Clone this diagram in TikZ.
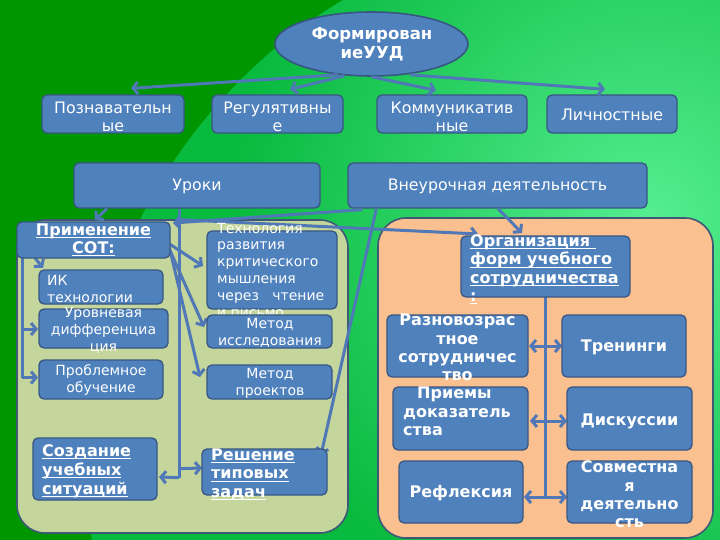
\documentclass[tikz,border=0pt]{standalone}
\usepackage{fontspec}
\setmainfont{DejaVu Sans}
\usetikzlibrary{arrows.meta,calc,shapes.geometric}
\definecolor{bgdark}{RGB}{0,150,0}
\definecolor{bgmid}{RGB}{8,186,62}
\definecolor{bglight}{RGB}{85,238,145}
\definecolor{boxfill}{RGB}{79,129,189}
\definecolor{boxline}{RGB}{56,86,130}
\definecolor{conncol}{RGB}{80,120,182}
\definecolor{lpanel}{RGB}{196,214,155}
\definecolor{rpanel}{RGB}{250,192,143}
\definecolor{pline}{RGB}{62,88,118}
\newcommand\myul[1]{\setbox0=\hbox{#1}\rlap{\rule[-3pt]{\wd0}{1.1pt}}\box0}
\begin{document}
\begin{tikzpicture}[x=1pt,y=-1pt,
  box/.style={draw=boxline,fill=boxfill,rounded corners=5pt,line width=1.3pt,inner sep=0pt},
  panel/.style={draw=pline,line width=1.6pt,rounded corners=28pt,inner sep=0pt},
  txt/.style={text=white,align=center,inner sep=0pt,font=\fontsize{14}{17}\selectfont},
  big/.style={font=\fontsize{15.8}{18}\selectfont},
  bigb/.style={font=\bfseries\fontsize{16}{18.3}\selectfont},
  conn/.style={draw=conncol,line width=3pt},
  endtip/.style={-{Straight Barb[length=5pt,width=12pt]}},
  bothtips/.style={{Straight Barb[length=5pt,width=12pt]}-{Straight Barb[length=5pt,width=12pt]}}]
\useasboundingbox (0,0) rectangle (720,540);
% background
\fill[bgdark] (0,0) rectangle (720,540);
\begin{scope}
  \clip (0,0) rectangle (720,540);
  \fill[bgmid] (615,455) circle (530pt);
  \clip (615,455) circle (530pt);
  \shade[inner color=bglight,outer color=bgmid] (650,220) circle (420pt);
\end{scope}
% panels
\node[panel,fill=lpanel,minimum width=331pt,minimum height=313pt] (LP) at (182.5,376.5) {};
\node[panel,fill=rpanel,minimum width=335pt,minimum height=320pt] (RP) at (545.5,378) {};
% upper boxes
\node[ellipse,draw=boxline,fill=boxfill,line width=1.6pt,minimum width=193pt,minimum height=64pt,inner sep=0pt] (E) at (371.5,44) {};
\node[box,minimum width=142pt,minimum height=38pt] (P1) at (113,114) {};
\node[box,minimum width=131pt,minimum height=38pt] (P2) at (277.5,114) {};
\node[box,minimum width=150pt,minimum height=38pt] (P3) at (452,114) {};
\node[box,minimum width=130pt,minimum height=38pt] (P4) at (612,114) {};
\node[box,minimum width=246pt,minimum height=45pt] (U) at (197,185.5) {};
\node[box,minimum width=299pt,minimum height=45pt] (V) at (497.5,185.5) {};
% connectors
\draw[conn,endtip] ($(E.south)+(-33.5,-2)$) -- ($(P1.north)+(18,-6)$);
\draw[conn,endtip] ($(E.south)+(-27,-1)$) -- ($(P2.north)+(12.5,-5)$);
\draw[conn,endtip] (E.south) -- ($(P3.north)+(-16,-4)$);
\draw[conn,endtip] ($(E.south)+(38.5,-2)$) -- ($(P4.north)+(-7,-5)$);
\coordinate (PrimN) at (93.5,222);
\coordinate (PrimNE) at (170,222);
\coordinate (PrimSW) at (17,258);
\coordinate (PrimE) at (170,240);
\coordinate (IKNW) at (39,270);
\coordinate (UrovW) at (39,328.5);
\coordinate (ProbW) at (39,379.5);
\coordinate (SozdE) at (157,469);
\coordinate (TechW) at (207,270);
\coordinate (MIW) at (207,331.5);
\coordinate (MPW) at (207,382);
\coordinate (ReshW) at (202,472);
\coordinate (ReshNE) at (327,449);
\coordinate (OrgNW) at (461,236);
\coordinate (OrgN) at (545.5,236);
\coordinate (OrgS) at (545.5,297);
\coordinate (RaznE) at (528,346);
\coordinate (TrenW) at (562,346);
\coordinate (PriemE) at (528,418.5);
\coordinate (DiskW) at (567,418.5);
\coordinate (ReflE) at (523,492);
\coordinate (SovmW) at (567,492);
\draw[conn,endtip] ($(U.south)+(-90,0)$) -- ($(PrimN)+(1.5,-2)$);
\draw[conn] ($(U.south)+(-18,0)$) -- ($(U.south)+(-18,269)$);
\draw[conn,endtip] ($(U.south)+(-18,269)$) -- ($(SozdE)+(2,8)$);
\draw[conn,endtip] ($(U.south)+(-18,260)$) -- ($(ReshW)+(0,-4)$);
\draw[conn,endtip] ($(U.south)+(-17,11)$) -- ($(OrgNW)+(17,-2)$);
\draw[conn,endtip] ($(V.south west)+(15,1)$) -- ($(PrimNE)+(3,1)$);
\draw[conn,endtip] ($(V.south west)+(29,0)$) -- ($(ReshNE)+(-6,6)$);
\draw[conn,endtip] ($(V.south)+(0.5,0)$) -- ($(OrgN)+(-23.5,-3)$);
\draw[conn,endtip] ($(PrimSW)+(18,0)$) -- ($(IKNW)+(4,-2)$);
\draw[conn] ($(PrimSW)+(5,0)$) -- ($(PrimSW)+(5,119.5)$);
\draw[conn,endtip] ($(PrimSW)+(5,71)$) -- ($(UrovW)+(-1,0.5)$);
\draw[conn,endtip] ($(PrimSW)+(5,119.5)$) -- ($(ProbW)+(-1,-2)$);
\draw[conn,endtip] ($(PrimE)+(-2,3)$) -- ($(TechW)+(-4,-4)$);
\draw[conn,endtip] ($(PrimE)+(-2,6)$) -- ($(MIW)+(-3,-4.5)$);
\draw[conn,endtip] ($(PrimE)+(0,10)$) -- ($(MPW)+(-7,-5)$);
\draw[conn] (OrgS) -- ($(OrgS)+(0,201)$);
\draw[conn,bothtips] ($(RaznE)+(1,0)$) -- (TrenW);
\draw[conn,bothtips] ($(PriemE)+(2,2.5)$) -- ($(DiskW)+(0,2.5)$);
\draw[conn,bothtips] ($(ReflE)+(1,5)$) -- ($(SovmW)+(0,5)$);
% lower boxes
\node[box,minimum width=153pt,minimum height=36pt] (Prim) at (93.5,240) {};
\node[box,minimum width=124pt,minimum height=34pt] (IK) at (101,287) {};
\node[box,minimum width=129pt,minimum height=39pt] (Urov) at (103.5,328.5) {};
\node[box,minimum width=124pt,minimum height=39pt] (Prob) at (101,379.5) {};
\node[box,minimum width=124pt,minimum height=62pt] (Sozd) at (95,469) {};
\node[box,minimum width=130pt,minimum height=78pt] (Tech) at (272,270) {};
\node[txt,anchor=west,align=left,font=\fontsize{14}{16.8}\selectfont] (Techt) at (217,270) {Технология\\развития\\критического\\мышления\\через\ \ \ чтение\\и письмо};
\node[box,minimum width=125pt,minimum height=33pt] (MI) at (269.5,331.5) {};
\node[box,minimum width=125pt,minimum height=34pt] (MP) at (269.5,382) {};
\node[box,minimum width=125pt,minimum height=46pt] (Resh) at (264.5,472) {};
\node[box,minimum width=169pt,minimum height=61pt] (Org) at (545.5,266.5) {};
\node[box,minimum width=141pt,minimum height=62pt] (Razn) at (457.5,346) {};
\node[box,minimum width=124pt,minimum height=62pt] (Tren) at (624,346) {};
\node[box,minimum width=135pt,minimum height=63pt] (Priem) at (460.5,418.5) {};
\node[box,minimum width=125pt,minimum height=63pt] (Disk) at (629.5,418.5) {};
\node[box,minimum width=124pt,minimum height=62pt] (Refl) at (461,492) {};
\node[box,minimum width=125pt,minimum height=62pt] (Sovm) at (629.5,492) {};
% texts
\node[txt,font=\bfseries\fontsize{16.5}{19}\selectfont] (Et) at (372,44) {Формирован\\иеУУД};
\node[txt,big] (P1t) at (113,117) {Познавательн\\ые};
\node[txt,big] (P2t) at (277.5,117) {Регулятивны\\е};
\node[txt,big] (P3t) at (452,117) {Коммуникатив\\ные};
\node[txt,big] (P4t) at (612,115) {Личностные};
\node[txt,big] (Ut) at (197,186) {Уроки};
\node[txt,big] (Vt) at (497.5,186) {Внеурочная деятельность};
\node[txt,bigb] (Primt) at (93.5,240) {\myul{Применение}\\\myul{СОТ:}};
\node[txt,anchor=west,align=left] (IKt) at (47,288.5) {ИК\\технологии};
\node[txt] (Urovt) at (103.5,330) {Уровневая\\дифференциа\\ция};
\node[txt] (Probt) at (101,380.5) {Проблемное\\обучение};
\node[txt,anchor=west,align=left,font=\bfseries\fontsize{16}{19}\selectfont] (Sozdt) at (42,471) {\myul{Создание}\\\myul{учебных}\\\myul{ситуаций}};
\node[txt] (MIt) at (270,333) {Метод\\исследования};
\node[txt] (MPt) at (270,383.5) {Метод\\проектов};
\node[txt,anchor=west,align=left,font=\bfseries\fontsize{16}{18.5}\selectfont] (Resht) at (211,474.5) {\myul{Решение}\\\myul{типовых}\\\myul{задач}};
\node[txt,anchor=west,align=left,font=\bfseries\fontsize{16}{18.3}\selectfont] (Orgt) at (470,269.5) {\myul{Организация\ }\\\myul{форм учебного}\\\myul{сотрудничества}\\\myul{:}};
\node[txt,bigb] (Raznt) at (457.5,347.5) {Разновозрас\\тное\\сотрудничес\\тво};
\node[txt,bigb] (Trent) at (624,347) {Тренинги};
\node[txt,bigb,anchor=west,align=left] (Priemt) at (403,411.5) {\hspace{14pt}Приемы\\доказатель\\ства};
\node[txt,bigb] (Diskt) at (629.5,421) {Дискуссии};
\node[txt,bigb] (Reflt) at (461,493) {Рефлексия};
\node[txt,bigb] (Sovmt) at (629.5,494.5) {Совместна\\я\\деятельно\\сть};
\end{tikzpicture}
\end{document}
